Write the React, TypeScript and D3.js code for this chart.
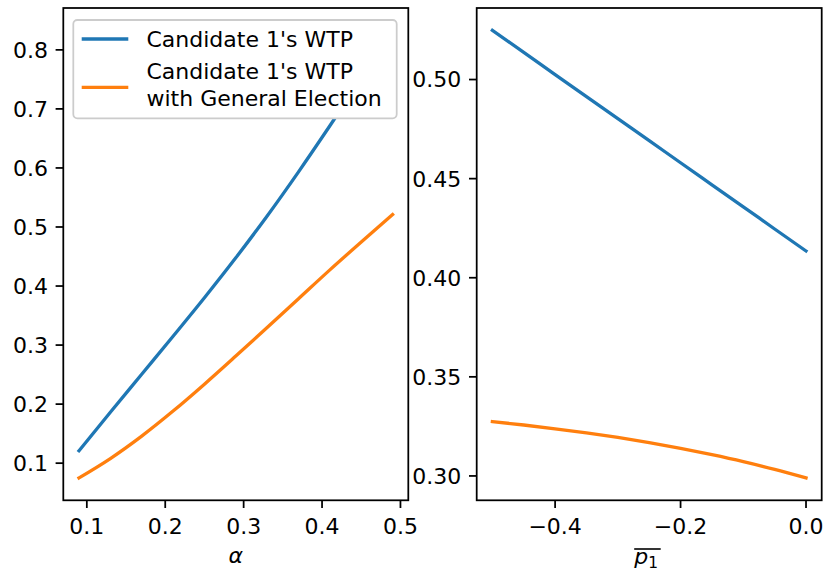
import React from "react";
import * as d3 from "d3";

// Left panel: willingness to pay as a function of alpha
const alpha = [0.09, 0.13, 0.17, 0.21, 0.25, 0.29, 0.33, 0.37, 0.41, 0.45, 0.49];
const wtpByAlpha = [0.121, 0.1862, 0.2506, 0.315, 0.3802, 0.4478, 0.5186, 0.5934, 0.6714, 0.7514, 0.833];
const wtpByAlphaGeneral = [0.075, 0.1078, 0.1458, 0.1882, 0.2338, 0.2814, 0.3298, 0.3786, 0.4274, 0.4746, 0.521];

// Right panel: willingness to pay as a function of p1-bar
const pBar = [-0.5, -0.45, -0.4, -0.35, -0.3, -0.25, -0.2, -0.15, -0.1, -0.05, 0.0];
const wtpByPBar = [0.5248, 0.5137, 0.5025, 0.4914, 0.4803, 0.4692, 0.458, 0.4469, 0.4358, 0.4246, 0.4135];
const wtpByPBarGeneral = [0.3274, 0.3257, 0.3238, 0.3217, 0.3194, 0.3168, 0.3139, 0.3107, 0.3072, 0.3033, 0.299];

const leftXTicks = [0.1, 0.2, 0.3, 0.4, 0.5];
const leftYTicks = [0.1, 0.2, 0.3, 0.4, 0.5, 0.6, 0.7, 0.8];
const rightXTicks = [-0.4, -0.2, 0.0];
const rightYTicks = [0.3, 0.35, 0.4, 0.45, 0.5];

const seriesNames = ["Candidate 1's WTP", "Candidate 1's WTP", "with General Election"];

const BLUE = "#1f77b4";
const ORANGE = "#ff7f0e";
const FONT = "'DejaVu Sans', sans-serif";
const FS = 22;
const TICK = 7.7;
const PAD = 7.7;
const LW = 3.3;
const SPINE = 1.76;

const top = 8;
const bottom = 500.3;

function padded(values: number[]): [number, number] {
  const [lo, hi] = d3.extent(values) as [number, number];
  const m = (hi - lo) * 0.05;
  return [lo - m, hi + m];
}

const fmtMinus = (s: string) => s.replace("-", "\u2212");

type PanelProps = {
  x0: number;
  x1: number;
  xs: number[];
  ys: number[][];
  xTicks: number[];
  yTicks: number[];
  xFmt: (v: number) => string;
  yFmt: (v: number) => string;
};

function Panel({ x0, x1, xs, ys, xTicks, yTicks, xFmt, yFmt }: PanelProps) {
  const x = d3.scaleLinear().domain(padded(xs)).range([x0, x1]);
  const y = d3.scaleLinear().domain(padded(ys.flat())).range([bottom, top]);
  const colors = [BLUE, ORANGE];
  const line = (vals: number[]) =>
    d3
      .line<number>()
      .x((_, i) => x(xs[i]))
      .y((v) => y(v))
      .curve(d3.curveMonotoneX)(vals) || "";
  return (
    <g>
      {ys.map((vals, k) => (
        <path key={k} d={line(vals)} fill="none" stroke={colors[k]} strokeWidth={LW} strokeLinecap="square" />
      ))}
      <rect x={x0} y={top} width={x1 - x0} height={bottom - top} fill="none" stroke="#000" strokeWidth={SPINE} />
      {xTicks.map((t) => (
        <g key={"x" + t}>
          <line x1={x(t)} x2={x(t)} y1={bottom} y2={bottom + TICK} stroke="#000" strokeWidth={SPINE} />
          <text x={x(t)} y={534} textAnchor="middle" fontFamily={FONT} fontSize={FS}>
            {fmtMinus(xFmt(t))}
          </text>
        </g>
      ))}
      {yTicks.map((t) => (
        <g key={"y" + t}>
          <line x1={x0 - TICK} x2={x0} y1={y(t)} y2={y(t)} stroke="#000" strokeWidth={SPINE} />
          <text x={x0 - TICK - PAD} y={y(t)} dy="0.36em" textAnchor="end" fontFamily={FONT} fontSize={FS}>
            {yFmt(t)}
          </text>
        </g>
      ))}
    </g>
  );
}

export default function App() {
  const lx0 = 63.3, lx1 = 408.3;
  const rx0 = 476.7, rx1 = 821.7;
  const rCenter = (rx0 + rx1) / 2;

  // legend layout
  const lg = { x: 73.3, y: 20, w: 323.4, h: 98.3 };
  const handleX0 = 81.7, handleX1 = 128.3, textX = 146.5;

  return (
    <svg width={827} height={573} style={{ position: "absolute", left: 0, top: 0, background: "#fff" }}>
      <rect width={827} height={573} fill="#fff" />
      <Panel
        x0={lx0}
        x1={lx1}
        xs={alpha}
        ys={[wtpByAlpha, wtpByAlphaGeneral]}
        xTicks={leftXTicks}
        yTicks={leftYTicks}
        xFmt={d3.format(".1f")}
        yFmt={d3.format(".1f")}
      />
      <Panel
        x0={rx0}
        x1={rx1}
        xs={pBar}
        ys={[wtpByPBar, wtpByPBarGeneral]}
        xTicks={rightXTicks}
        yTicks={rightYTicks}
        xFmt={d3.format(".1f")}
        yFmt={d3.format(".2f")}
      />

      {/* axis labels */}
      <text x={(lx0 + lx1) / 2} y={563} textAnchor="middle" fontFamily={FONT} fontSize={FS} fontStyle="italic">
        α
      </text>
      <g>
        <text x={rCenter - 3} y={564} textAnchor="middle" fontFamily={FONT} fontSize={FS}>
          <tspan fontStyle="italic">p</tspan>
          <tspan fontSize={15.4} dy={4}>1</tspan>
        </text>
        <line x1={rCenter - 15} x2={rCenter + 11.5} y1={549} y2={549} stroke="#000" strokeWidth={1.6} />
      </g>

      {/* legend */}
      <g>
        <rect x={lg.x} y={lg.y} width={lg.w} height={lg.h} rx={4} fill="#fff" stroke="#cccccc" strokeWidth={1.76} />
        <line x1={handleX0} x2={handleX1} y1={39} y2={39} stroke={BLUE} strokeWidth={LW} />
        <text x={textX} y={46.7} fontFamily={FONT} fontSize={FS}>{seriesNames[0]}</text>
        <line x1={handleX0} x2={handleX1} y1={87.3} y2={87.3} stroke={ORANGE} strokeWidth={LW} />
        <text x={textX} y={79.3} fontFamily={FONT} fontSize={FS}>{seriesNames[1]}</text>
        <text x={textX} y={105.7} fontFamily={FONT} fontSize={FS}>{seriesNames[2]}</text>
      </g>
    </svg>
  );
}
